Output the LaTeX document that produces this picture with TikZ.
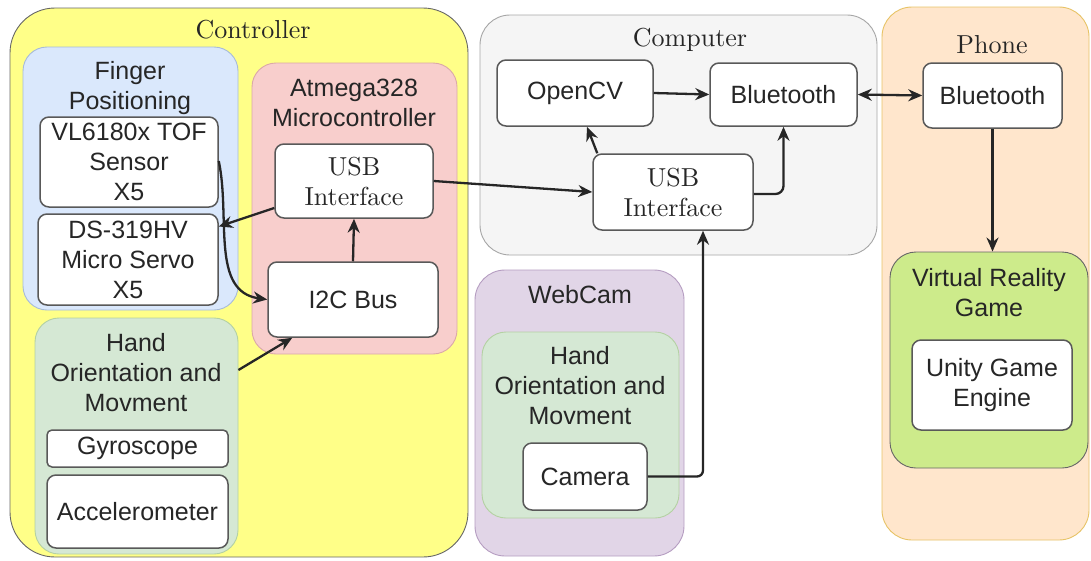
\documentclass[tikz,border=0pt]{standalone}
\usepackage{fontspec}
\setsansfont{Liberation Sans}
\newfontfamily\cmfont{lmroman10-regular.otf}
\usetikzlibrary{arrows.meta}
\definecolor{ctrlfill}{HTML}{FFFF88}
\definecolor{fingfill}{HTML}{DAE8FC}
\definecolor{fingline}{HTML}{6C8EBF}
\definecolor{atmfill}{HTML}{F8CECC}
\definecolor{atmline}{HTML}{B85450}
\definecolor{handfill}{HTML}{D5E8D4}
\definecolor{handline}{HTML}{82B366}
\definecolor{compfill}{HTML}{F5F5F5}
\definecolor{camfill}{HTML}{E1D5E7}
\definecolor{camline}{HTML}{9673A6}
\definecolor{phonefill}{HTML}{FFE6CC}
\definecolor{phoneline}{HTML}{D79B00}
\definecolor{vrfill}{HTML}{CDEB8B}
\begin{document}
\begin{tikzpicture}
[x=1pt, y=-1pt, line width=1.2pt, text=black!85,
>={Stealth[length=14pt, width=12pt]},
group/.style={rectangle, inner sep=0pt, line width=0.9pt},
part/.style={rectangle, draw=black!65, fill=white, rounded corners=9pt, inner sep=0pt, line width=1.5pt, align=center, font=\sffamily\fontsize{25}{30}\selectfont},
serifpart/.style={part, font=\cmfont\fontsize{26}{30}\selectfont},
title/.style={align=center, inner sep=0pt, font=\sffamily\fontsize{25}{30}\selectfont},
seriftitle/.style={inner sep=0pt, font=\cmfont\fontsize{26}{30}\selectfont},
arr/.style={->, line width=2.3pt, draw=black!85}]

\useasboundingbox (0,0) rectangle (1091,560);

% outer groups
\node[group, draw=black!60, fill=ctrlfill, rounded corners=45pt, minimum width=458pt, minimum height=549pt] (ctrl) at (239,282.5) {};
\node[group, draw=black!35, fill=compfill, rounded corners=30pt, minimum width=397pt, minimum height=240pt] (comp) at (678.5,135) {};
\node[group, draw=camline!70, fill=camfill, rounded corners=30pt, minimum width=209pt, minimum height=286pt] (webcam) at (579.5,413) {};
\node[group, draw=phoneline!60, fill=phonefill, rounded corners=30pt, minimum width=207pt, minimum height=533pt] (phone) at (985.5,273.5) {};

\node[seriftitle] (ctrltitle) at (253,30) {Controller};
\node[seriftitle] (comptitle) at (690,40) {Computer};
\node[title] (webcamtitle) at (580,295) {WebCam};
\node[seriftitle] (phonetitle) at (992,45) {Phone};

% inner groups
\node[group, draw=fingline!60, fill=fingfill, rounded corners=24pt, minimum width=215pt, minimum height=263pt] (finger) at (130.5,178.5) {};
\node[group, draw=atmline!50, fill=atmfill, rounded corners=24pt, minimum width=205pt, minimum height=291pt] (atmega) at (354.5,208.5) {};
\node[group, draw=handline!60, fill=handfill, rounded corners=24pt, minimum width=203pt, minimum height=236pt] (hand) at (136.5,436) {};
\node[group, draw=handline!60, fill=handfill, rounded corners=24pt, minimum width=197pt, minimum height=186pt] (camhand) at (580.5,425) {};
\node[group, draw=black!60, fill=vrfill, rounded corners=26pt, minimum width=198pt, minimum height=216pt] (vr) at (989,360) {};

\node[title] (fingertitle) at (130,88) {Finger\\Positioning};
\node[title] (atmegatitle) at (354,103) {Atmega328\\Microcontroller};
\node[title] (handtitle) at (136,373) {Hand\\Orientation and\\Movment};
\node[title] (camhandtitle) at (580,386) {Hand\\Orientation and\\Movment};
\node[title] (vrtitle) at (989,293) {Virtual Reality\\Game};

% parts
\node[part, minimum width=178pt, minimum height=90pt] (tof) at (129,162) {VL6180x TOF\\Sensor\\X5};
\node[part, minimum width=180pt, minimum height=91pt] (servo) at (128,259.5) {DS-319HV\\Micro Servo\\X5};
\node[serifpart, minimum width=158pt, minimum height=74pt] (usb1) at (354,181) {USB\\Interface};
\node[part, minimum width=170pt, minimum height=75pt] (i2c) at (353,299.5) {I2C Bus};
\node[part, minimum width=181pt, minimum height=37pt, rounded corners=5pt] (gyro) at (137.5,448.5) {Gyroscope};
\node[part, minimum width=181pt, minimum height=73pt] (accel) at (137.5,511.5) {Accelerometer};
\node[part, minimum width=156pt, minimum height=66pt] (opencv) at (575,93) {OpenCV};
\node[part, minimum width=147pt, minimum height=63pt] (bt1) at (783.5,94.5) {Bluetooth};
\node[serifpart, minimum width=160pt, minimum height=76pt] (usb2) at (673,192) {USB\\Interface};
\node[part, minimum width=124pt, minimum height=67pt] (camera) at (585,476.5) {Camera};
\node[part, minimum width=139pt, minimum height=65pt] (bt2) at (992.5,95.5) {Bluetooth};
\node[part, minimum width=160pt, minimum height=90pt] (unity) at (992,385) {Unity Game\\Engine};

% links
\draw[arr] ([yshift=1pt]tof.east) to[out=-78, in=172] (i2c.west);
\draw[arr] ([yshift=-27pt]usb1.west) -- ([yshift=33pt]servo.east);
\draw[arr] (i2c.north) -- (usb1.south);
\draw[arr] ([yshift=66pt]hand.east) -- ([xshift=25pt]i2c.south west);
\draw[arr] (usb1.east) -- (usb2.west);
\draw[arr] ([xshift=5pt]usb2.north west) -- ([xshift=12pt]opencv.south);
\draw[arr] (opencv.east) -- (bt1.west);
\draw[arr, rounded corners=8pt] ([yshift=-2pt]usb2.east) -| (bt1.south);
\draw[arr, <->] (bt1.east) -- (bt2.west);
\draw[arr] (bt2.south) -- (bt2.south |- vr.north);
\draw[arr, rounded corners=6pt] (camera.east) -| ([xshift=30pt]usb2.south);

\end{tikzpicture}
\end{document}
